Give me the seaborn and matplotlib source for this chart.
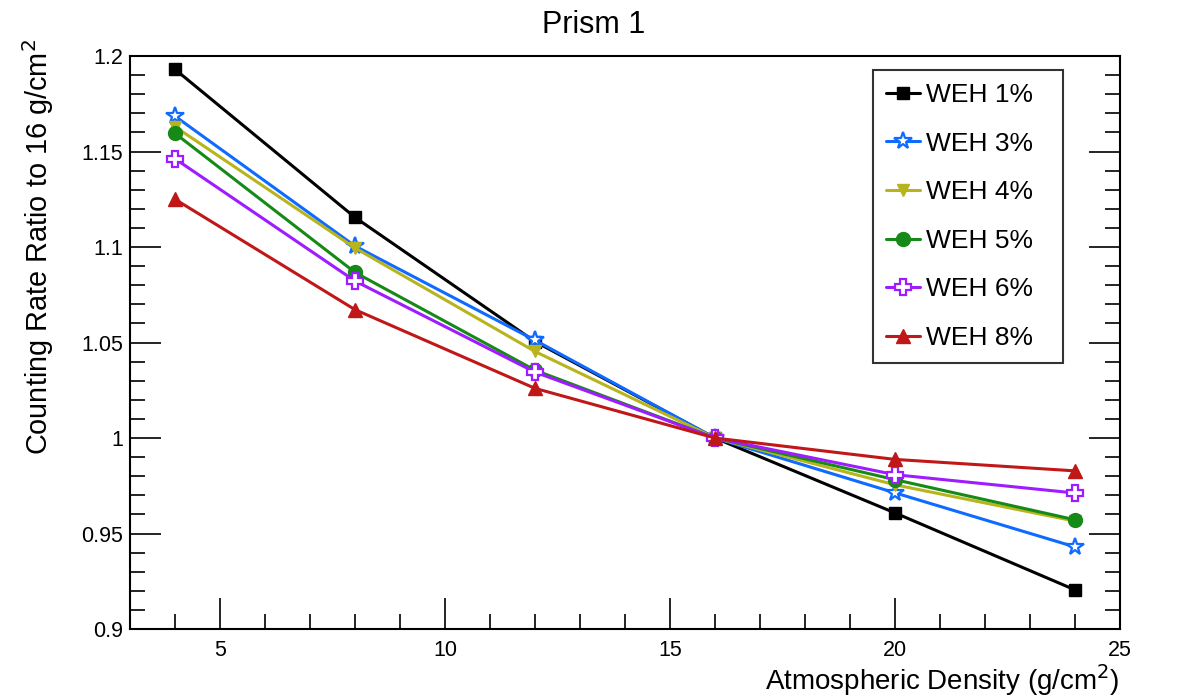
import matplotlib
matplotlib.use("Agg")
import matplotlib.pyplot as plt
from matplotlib.ticker import MultipleLocator, FuncFormatter
import pandas as pd
import seaborn as sns

# datos
densidad = [4, 8, 12, 16, 20, 24]
weh_1 = [1.193, 1.1155, 1.0505, 1.0, 0.9608, 0.9205]
weh_3 = [1.1685, 1.1005, 1.0512, 1.0, 0.9713, 0.943]
weh_4 = [1.163, 1.0995, 1.0453, 1.0, 0.9755, 0.9565]
weh_5 = [1.1595, 1.0867, 1.0355, 1.0, 0.9782, 0.9572]
weh_6 = [1.1462, 1.0822, 1.0345, 1.0, 0.9808, 0.9712]
weh_8 = [1.125, 1.0672, 1.026, 1.0, 0.9888, 0.9828]

series = ["WEH 1%", "WEH 3%", "WEH 4%", "WEH 5%", "WEH 6%", "WEH 8%"]
valores = [weh_1, weh_3, weh_4, weh_5, weh_6, weh_8]

colores = ["#000000", "#0f6bff", "#b8b41e", "#168a16", "#9e1cff", "#c01818"]
marcadores = ["s", "*", "v", "o", "P", "^"]
huecos = [False, True, False, False, True, False]
tamanos = [9, 13, 9, 10, 11, 10]

df = pd.DataFrame({
    "densidad": densidad * len(series),
    "ratio": [v for serie in valores for v in serie],
    "serie": [s for s in series for _ in densidad],
})

sns.set_style("white")
plt.rcParams["font.family"] = ["Liberation Sans", "DejaVu Sans"]
plt.rcParams["text.color"] = "black"
plt.rcParams["axes.labelcolor"] = "black"
plt.rcParams["xtick.color"] = "black"
plt.rcParams["ytick.color"] = "black"

fig = plt.figure(figsize=(11.82, 7), dpi=100)
ax = fig.add_axes([0.11, 0.1014, 0.8375, 0.8186])

for s, c, m, h, ms in zip(series, colores, marcadores, huecos, tamanos):
    sub = df[df["serie"] == s]
    sns.lineplot(data=sub, x="densidad", y="ratio", color=c, marker=m,
                 markersize=ms, linewidth=2.2, label=s, ax=ax,
                 markerfacecolor="white" if h else c,
                 markeredgecolor=c, markeredgewidth=1.6 if h else 1)

ax.set_xlim(3, 25)
ax.set_ylim(0.9, 1.2)
ax.xaxis.set_major_locator(MultipleLocator(5))
ax.xaxis.set_minor_locator(MultipleLocator(1))
ax.yaxis.set_major_locator(MultipleLocator(0.05))
ax.yaxis.set_minor_locator(MultipleLocator(0.01))
ax.yaxis.set_major_formatter(FuncFormatter(lambda v, p: f"{v:g}"))
ax.tick_params(which="both", direction="in", left=True, right=True, bottom=True, top=False,
               labelsize=15.5, width=1.2, color="black")
ax.tick_params(which="major", length=22)
ax.tick_params(which="minor", length=11)
ax.tick_params(axis="x", which="major", pad=8)
ax.tick_params(axis="y", which="major", pad=5)
for sp in ax.spines.values():
    sp.set_linewidth(1.5)
    sp.set_color("black")

fig.text(0.502, 0.964, "Prism 1", fontsize=22, ha="center", va="center")
ax.set_xlabel("Atmospheric Density (g/cm$^2$)", fontsize=20)
ax.xaxis.set_label_coords(1.0, -0.089)
ax.xaxis.label.set_horizontalalignment("right")
ax.xaxis.label.set_verticalalignment("center")
ax.set_ylabel("Counting Rate Ratio to 16 g/cm$^2$", fontsize=20.8)
ax.yaxis.set_label_coords(-0.075, 0.6675)

leg = ax.legend(loc="upper left", bbox_to_anchor=(0.7505, 0.5, 0.192, 0.4756), mode="expand",
                fontsize=19, frameon=True, fancybox=False, edgecolor="black",
                borderpad=0.5, labelspacing=0.93, handlelength=1.3, handletextpad=0.2,
                borderaxespad=0)
leg.get_frame().set_linewidth(1.5)

fig.savefig("out.png", dpi=100)
